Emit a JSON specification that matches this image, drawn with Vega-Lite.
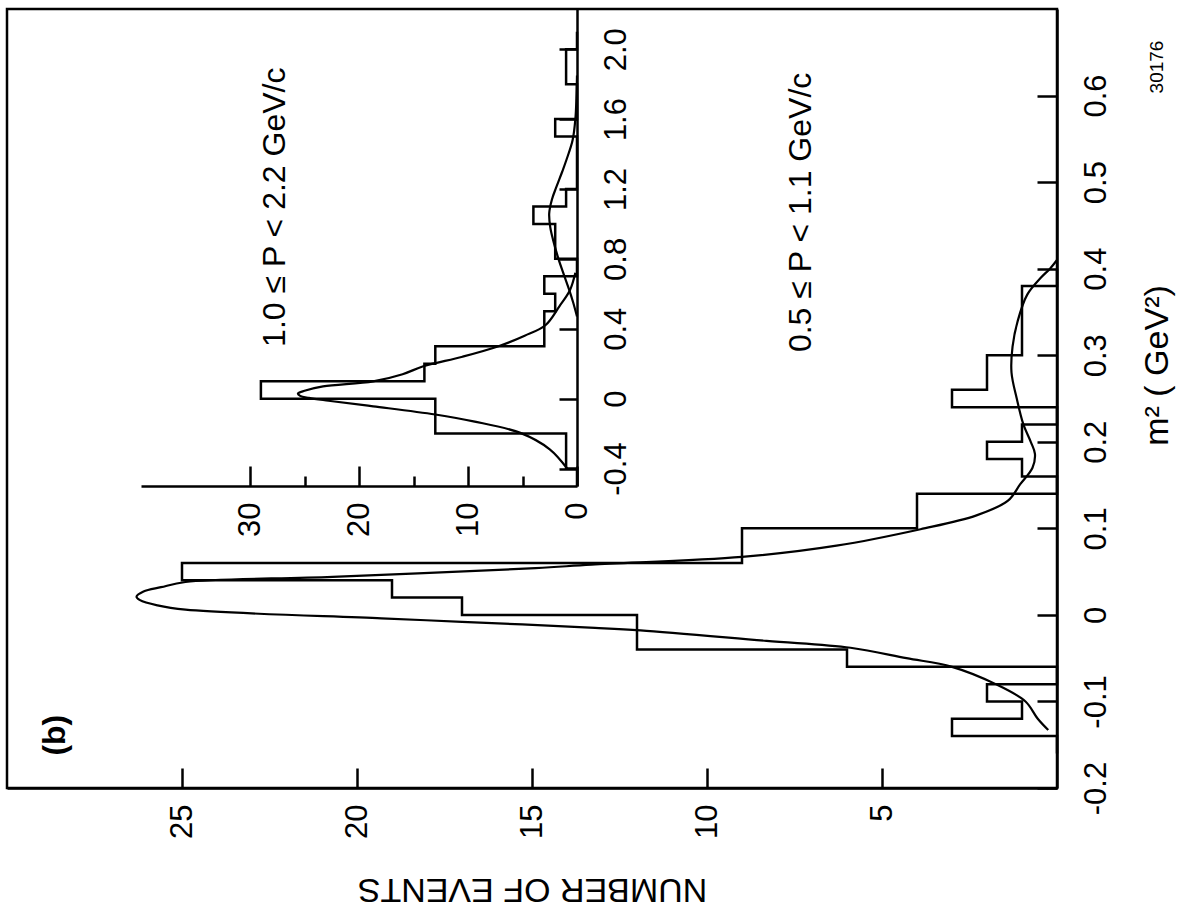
{
  "$schema": "https://vega.github.io/schema/vega-lite/v6.json",
  "width": 1050,
  "height": 779,
  "autosize": {"type": "none"},
  "padding": {"left": 7, "top": 9, "right": 128, "bottom": 129},
  "background": "white",
  "config": {
    "view": {"stroke": "black", "strokeWidth": 2.5},
    "axis": {"grid": false, "domainColor": "black", "domainWidth": 2.5, "tickColor": "black", "tickWidth": 2.5, "labelColor": "black", "titleColor": "black", "titleFontWeight": "normal", "labelOverlap": false, "labelFlush": false, "labelBound": false}
  },
  "datasets": {
    "main_hist": [
      {"lo": -0.16, "hi": -0.14, "n": 0},
      {"lo": -0.14, "hi": -0.12, "n": 3},
      {"lo": -0.12, "hi": -0.10, "n": 1},
      {"lo": -0.10, "hi": -0.08, "n": 2},
      {"lo": -0.08, "hi": -0.06, "n": 0},
      {"lo": -0.06, "hi": -0.04, "n": 6},
      {"lo": -0.04, "hi": 0.00, "n": 12},
      {"lo": 0.00, "hi": 0.02, "n": 17},
      {"lo": 0.02, "hi": 0.04, "n": 19},
      {"lo": 0.04, "hi": 0.06, "n": 25},
      {"lo": 0.06, "hi": 0.10, "n": 9},
      {"lo": 0.10, "hi": 0.14, "n": 4},
      {"lo": 0.14, "hi": 0.16, "n": 0},
      {"lo": 0.16, "hi": 0.18, "n": 1},
      {"lo": 0.18, "hi": 0.20, "n": 2},
      {"lo": 0.20, "hi": 0.22, "n": 1},
      {"lo": 0.22, "hi": 0.24, "n": 0},
      {"lo": 0.24, "hi": 0.26, "n": 3},
      {"lo": 0.26, "hi": 0.30, "n": 2},
      {"lo": 0.30, "hi": 0.38, "n": 1},
      {"lo": 0.38, "hi": 0.40, "n": 0}
    ],
    "main_fit": [
      {"n": 0.25, "m2": -0.133}, {"n": 0.55, "m2": -0.12}, {"n": 0.9, "m2": -0.10}, {"n": 1.75, "m2": -0.08},
      {"n": 3.0, "m2": -0.06}, {"n": 4.3, "m2": -0.05}, {"n": 5.9, "m2": -0.038}, {"n": 8.3, "m2": -0.03},
      {"n": 11.9, "m2": -0.018}, {"n": 13.2, "m2": -0.015}, {"n": 17.0, "m2": -0.008}, {"n": 19.3, "m2": -0.004},
      {"n": 24.9, "m2": 0.006}, {"n": 25.7, "m2": 0.011}, {"n": 26.2, "m2": 0.017}, {"n": 26.3, "m2": 0.021},
      {"n": 26.1, "m2": 0.027}, {"n": 25.6, "m2": 0.032}, {"n": 24.9, "m2": 0.038}, {"n": 20.7, "m2": 0.044},
      {"n": 14.9, "m2": 0.054}, {"n": 13.3, "m2": 0.058}, {"n": 9.0, "m2": 0.067}, {"n": 6.3, "m2": 0.08},
      {"n": 3.9, "m2": 0.099}, {"n": 2.3, "m2": 0.115}, {"n": 1.4, "m2": 0.132}, {"n": 1.05, "m2": 0.151},
      {"n": 0.7, "m2": 0.17}, {"n": 0.63, "m2": 0.186}, {"n": 0.75, "m2": 0.20}, {"n": 0.96, "m2": 0.22},
      {"n": 1.15, "m2": 0.25}, {"n": 1.3, "m2": 0.28}, {"n": 1.27, "m2": 0.31}, {"n": 1.12, "m2": 0.34},
      {"n": 0.85, "m2": 0.37}, {"n": 0.45, "m2": 0.39}, {"n": 0.2, "m2": 0.40}, {"n": 0.0, "m2": 0.41}
    ],
    "inset_hist": [
      {"lo": -0.5, "hi": -0.4, "n": 0},
      {"lo": -0.4, "hi": -0.2, "n": 1},
      {"lo": -0.2, "hi": 0.0, "n": 13},
      {"lo": 0.0, "hi": 0.1, "n": 29},
      {"lo": 0.1, "hi": 0.2, "n": 14},
      {"lo": 0.2, "hi": 0.3, "n": 13},
      {"lo": 0.3, "hi": 0.5, "n": 3},
      {"lo": 0.5, "hi": 0.6, "n": 2},
      {"lo": 0.6, "hi": 0.7, "n": 3},
      {"lo": 0.7, "hi": 0.8, "n": 0},
      {"lo": 0.8, "hi": 0.9, "n": 2},
      {"lo": 0.9, "hi": 1.0, "n": 2},
      {"lo": 1.0, "hi": 1.1, "n": 4},
      {"lo": 1.1, "hi": 1.2, "n": 1},
      {"lo": 1.2, "hi": 1.5, "n": 0},
      {"lo": 1.5, "hi": 1.6, "n": 2},
      {"lo": 1.6, "hi": 1.8, "n": 0},
      {"lo": 1.8, "hi": 2.0, "n": 1},
      {"lo": 2.0, "hi": 2.1, "n": 0}
    ],
    "inset_fit": [
      {"comp": "pi", "n": 0.9, "m2": -0.40}, {"comp": "pi", "n": 2.5, "m2": -0.29}, {"comp": "pi", "n": 5.2, "m2": -0.196},
      {"comp": "pi", "n": 9.5, "m2": -0.13}, {"comp": "pi", "n": 13.0, "m2": -0.091}, {"comp": "pi", "n": 18.7, "m2": -0.044},
      {"comp": "pi", "n": 22.8, "m2": -0.012}, {"comp": "pi", "n": 24.6, "m2": 0.004}, {"comp": "pi", "n": 25.4, "m2": 0.016},
      {"comp": "pi", "n": 25.6, "m2": 0.029}, {"comp": "pi", "n": 25.0, "m2": 0.045}, {"comp": "pi", "n": 23.3, "m2": 0.07},
      {"comp": "pi", "n": 18.7, "m2": 0.099}, {"comp": "pi", "n": 16.0, "m2": 0.14}, {"comp": "pi", "n": 14.1, "m2": 0.185},
      {"comp": "pi", "n": 10.5, "m2": 0.24}, {"comp": "pi", "n": 7.2, "m2": 0.30}, {"comp": "pi", "n": 4.8, "m2": 0.36},
      {"comp": "pi", "n": 2.9, "m2": 0.42}, {"comp": "pi", "n": 1.6, "m2": 0.53}, {"comp": "pi", "n": 0.65, "m2": 0.62},
      {"comp": "pi", "n": 0.15, "m2": 0.72},
      {"comp": "p", "n": 0.0, "m2": 0.47}, {"comp": "p", "n": 0.35, "m2": 0.55}, {"comp": "p", "n": 0.7, "m2": 0.62},
      {"comp": "p", "n": 1.15, "m2": 0.70}, {"comp": "p", "n": 1.7, "m2": 0.80}, {"comp": "p", "n": 2.2, "m2": 0.91},
      {"comp": "p", "n": 2.45, "m2": 0.98}, {"comp": "p", "n": 2.55, "m2": 1.06}, {"comp": "p", "n": 2.3, "m2": 1.14},
      {"comp": "p", "n": 1.9, "m2": 1.21}, {"comp": "p", "n": 1.35, "m2": 1.30}, {"comp": "p", "n": 0.95, "m2": 1.37},
      {"comp": "p", "n": 0.4, "m2": 1.48}, {"comp": "p", "n": 0.15, "m2": 1.60}, {"comp": "p", "n": 0.05, "m2": 1.72},
      {"comp": "p", "n": 0.0, "m2": 1.85}
    ],
    "notes": [
      {"kind": "range", "n": 22.34, "m2": 0.471, "label": "1.0 ≤ P < 2.2 GeV/c"},
      {"kind": "range", "n": 7.31, "m2": 0.465, "label": "0.5 ≤ P < 1.1 GeV/c"},
      {"kind": "panel", "n": 28.63, "m2": -0.139, "label": "(b)"},
      {"kind": "id", "n": -2.86, "m2": 0.633, "label": "30176"}
    ]
  },
  "layer": [
    {
      "encoding": {
        "x": {
          "field": "n", "type": "quantitative",
          "scale": {"domain": [0, 30], "reverse": true, "nice": false, "zero": false},
          "axis": {
            "orient": "bottom", "values": [5, 10, 15, 20, 25], "tickSize": -20,
            "labelAngle": 270, "labelAlign": "right", "labelBaseline": "middle", "labelPadding": 36,
            "labelFont": "Liberation Sans", "labelFontSize": 31,
            "title": "NUMBER OF EVENTS", "titleAngle": 180, "titleAlign": "center", "titleBaseline": "bottom",
            "titleFont": "Liberation Sans", "titleFontSize": 34, "titlePadding": 33
          }
        },
        "y": {
          "field": "m2", "type": "quantitative",
          "scale": {"domain": [-0.2, 0.7], "nice": false, "zero": false},
          "axis": {
            "orient": "right", "values": [-0.2, -0.1, 0, 0.1, 0.2, 0.3, 0.4, 0.5, 0.6], "tickSize": -20,
            "labelAngle": 270, "labelAlign": "center", "labelBaseline": "top", "labelPadding": 44,
            "labelExpr": "datum.value == 0 ? '0' : replace(format(datum.value, '.1f'), '\u2212', '-')",
            "labelFont": "Liberation Sans", "labelFontSize": 31,
            "title": "m² ( GeV²)", "titleAngle": 270, "titleAlign": "center", "titleBaseline": "top",
            "titleFont": "Liberation Sans", "titleFontSize": 34, "titlePadding": 29, "titleY": 356
          }
        }
      },
      "layer": [
        {
          "data": {"name": "main_hist"},
          "transform": [{"fold": ["lo", "hi"], "as": ["edge", "m2"]}],
          "mark": {"type": "line", "color": "black", "strokeWidth": 2.5, "interpolate": "linear"},
          "encoding": {"order": {"field": "m2", "type": "quantitative"}}
        },
        {
          "data": {"name": "main_fit"},
          "mark": {"type": "line", "color": "black", "strokeWidth": 2.2, "interpolate": "catmull-rom"},
          "encoding": {"order": {"field": "m2", "type": "quantitative"}}
        },
        {
          "data": {"name": "notes"},
          "transform": [{"filter": "datum.kind == 'range'"}],
          "mark": {"type": "text", "angle": 270, "align": "center", "baseline": "middle", "font": "Liberation Sans", "fontSize": 32, "color": "black"},
          "encoding": {"text": {"field": "label"}}
        },
        {
          "data": {"name": "notes"},
          "transform": [{"filter": "datum.kind == 'panel'"}],
          "mark": {"type": "text", "angle": 270, "align": "center", "baseline": "middle", "font": "Liberation Sans", "fontSize": 32, "fontWeight": "bold", "color": "black"},
          "encoding": {"text": {"field": "label"}}
        },
        {
          "data": {"name": "notes"},
          "transform": [{"filter": "datum.kind == 'id'"}],
          "mark": {"type": "text", "angle": 270, "align": "center", "baseline": "middle", "font": "Liberation Sans", "fontSize": 19, "color": "black"},
          "encoding": {"text": {"field": "label"}}
        }
      ]
    },
    {
      "encoding": {
        "x": {
          "field": "n", "type": "quantitative",
          "scale": {"domain": [0, 40], "range": [570, 134], "nice": false, "zero": false},
          "axis": {
            "orient": "bottom", "offset": -302, "values": [0, 5, 10, 15, 20, 25, 30],
            "tickSize": {"condition": {"test": "datum.value % 10 == 5", "value": -10}, "value": -20},
            "labelExpr": "datum.value % 10 == 5 ? '' : datum.label",
            "labelAngle": 270, "labelAlign": "right", "labelBaseline": "middle", "labelPadding": 36,
            "labelFont": "Liberation Sans", "labelFontSize": 31,
            "title": null
          }
        },
        "y": {
          "field": "m2", "type": "quantitative",
          "scale": {"domain": [-0.5, 2.23], "range": [477, 0], "nice": false, "zero": false},
          "axis": {
            "orient": "right", "offset": -480, "values": [-0.4, 0, 0.4, 0.8, 1.2, 1.6, 2.0], "tickSize": -18,
            "labelAngle": 270, "labelAlign": "center", "labelBaseline": "top", "labelPadding": 42,
            "labelExpr": "datum.value == 0 ? '0' : replace(format(datum.value, '.1f'), '\u2212', '-')",
            "labelFont": "Liberation Sans", "labelFontSize": 31,
            "title": null
          }
        }
      },
      "layer": [
        {
          "data": {"name": "inset_hist"},
          "transform": [{"fold": ["lo", "hi"], "as": ["edge", "m2"]}],
          "mark": {"type": "line", "color": "black", "strokeWidth": 2.5, "interpolate": "linear"},
          "encoding": {"order": {"field": "m2", "type": "quantitative"}}
        },
        {
          "data": {"name": "inset_fit"},
          "mark": {"type": "line", "color": "black", "strokeWidth": 2.2, "interpolate": "catmull-rom"},
          "encoding": {"detail": {"field": "comp"}, "order": {"field": "m2", "type": "quantitative"}}
        }
      ]
    }
  ],
  "resolve": {"scale": {"x": "independent", "y": "independent"}, "axis": {"x": "independent", "y": "independent"}}
}
